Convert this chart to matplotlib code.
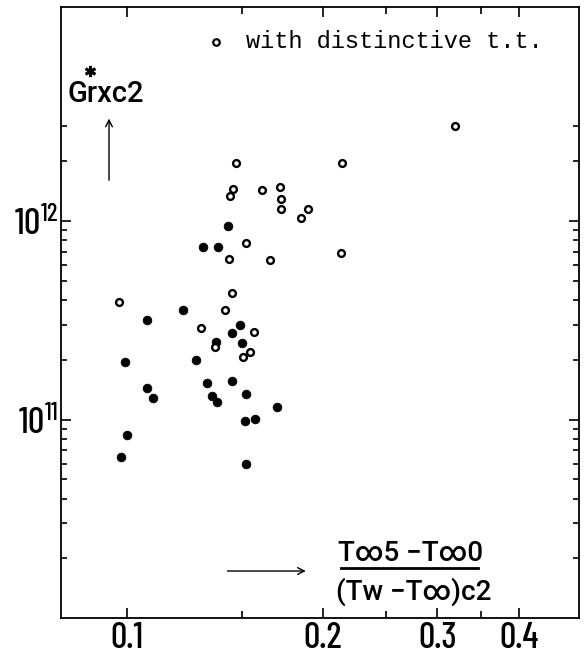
import matplotlib
matplotlib.use("Agg")
import matplotlib.pyplot as plt
from matplotlib.ticker import FixedLocator, NullFormatter, FixedFormatter
from matplotlib.lines import Line2D

# ---- data ----
open_x = [0.319, 0.147, 0.214, 0.1455, 0.144, 0.161, 0.172, 0.1725, 0.1727, 0.190, 0.185,
          0.1524, 0.1436, 0.166, 0.2135, 0.145, 0.0971, 0.1413, 0.130, 0.1565, 0.1367, 0.1545, 0.151]
open_y = [3.03e12, 1.96e12, 1.97e12, 1.46e12, 1.34e12, 1.43e12, 1.48e12, 1.29e12, 1.145e12, 1.145e12, 1.035e12,
          7.78e11, 6.44e11, 6.37e11, 6.88e11, 4.33e11, 3.9e11, 3.58e11, 2.9e11, 2.76e11, 2.32e11, 2.19e11, 2.06e11]

filled_x = [0.143, 0.131, 0.138, 0.122, 0.1073, 0.1494, 0.145, 0.1371, 0.1502, 0.0992, 0.1275, 0.1327,
            0.145, 0.1074, 0.1097, 0.1353, 0.1377, 0.1524, 0.1698, 0.152, 0.1575, 0.0999, 0.0978, 0.1523]
filled_y = [9.5e11, 7.43e11, 7.37e11, 3.58e11, 3.19e11, 2.98e11, 2.74e11, 2.47e11, 2.44e11, 1.95e11, 2.0e11, 1.53e11,
            1.56e11, 1.45e11, 1.29e11, 1.32e11, 1.23e11, 1.35e11, 1.16e11, 9.85e10, 1.01e11, 8.38e10, 6.47e10, 5.94e10]

x_major = [0.1, 0.2, 0.3, 0.4]
x_major_labels = ["0.1", "0.2", "0.3", "0.4"]
x_minor = [0.15, 0.25, 0.35]
y_major = [1e11, 1e12]
y_major_labels = [r"$\mathregular{10^{11}}$", r"$\mathregular{10^{12}}$"]
y_minor = [m * 10.0 ** e for e in (10, 11) for m in range(2, 10)] + [2e12, 3e12]

legend_text = "with distinctive t.t."
ylabel_text = "Grxc2"
xlabel_num = "T\u221e5 \u2212T\u221e0"
xlabel_den = "(Tw \u2212T\u221e)c2"

SANS = ["Roboto", "DejaVu Sans"]
NARROW = ["Barlow Condensed", "DejaVu Sans"]
plt.rcParams["font.family"] = NARROW
plt.rcParams["mathtext.fontset"] = "custom"
plt.rcParams["mathtext.rm"] = "Barlow Condensed:medium"

fig = plt.figure(figsize=(5.85, 6.55), dpi=100)
ax = fig.add_axes([61 / 585, 37 / 655, 518 / 585, 611 / 655])
ax.set_xscale("log")
ax.set_yscale("log")
ax.set_xlim(0.0792, 0.495)
ax.set_ylim(1.0e10, 1.2e13)

ax.scatter(filled_x, filled_y, s=40, c="black", edgecolors="black", linewidths=0.5, zorder=3)
ax.scatter(open_x, open_y, s=24, facecolors="white", edgecolors="black", linewidths=1.7, zorder=3)

ax.xaxis.set_major_locator(FixedLocator(x_major))
ax.xaxis.set_major_formatter(FixedFormatter(x_major_labels))
ax.xaxis.set_minor_locator(FixedLocator(x_minor))
ax.xaxis.set_minor_formatter(NullFormatter())
ax.yaxis.set_major_locator(FixedLocator(y_major))
ax.yaxis.set_major_formatter(FixedFormatter(y_major_labels))
ax.yaxis.set_minor_locator(FixedLocator(y_minor))
ax.yaxis.set_minor_formatter(NullFormatter())

ax.tick_params(which="both", direction="in", top=True, right=True, width=1.2)
ax.tick_params(axis="x", which="major", length=7, pad=3, labelsize=26)
ax.tick_params(axis="x", which="minor", length=5)
ax.tick_params(axis="y", which="major", length=7, pad=2, labelsize=26)
ax.tick_params(axis="y", which="minor", length=4)
for lab in ax.get_xticklabels() + ax.get_yticklabels():
    lab.set_fontweight("medium")
for sp in ax.spines.values():
    sp.set_linewidth(1.3)

# legend-like annotation
ax.scatter([0.299], [0.943], s=22, facecolors="white", edgecolors="black", linewidths=1.6,
           transform=ax.transAxes, clip_on=False, zorder=4)
ax.text(0.357, 0.943, legend_text, transform=ax.transAxes, ha="left", va="center",
        fontsize=17, family=["Liberation Mono", "DejaVu Sans Mono"])

# y label with asterisk and arrow
ax.text(0.087, 0.857, ylabel_text, transform=ax.transAxes, ha="center", va="center",
        fontsize=21, family=SANS, fontweight="medium")
ax.plot([0.056], [0.895], marker=(6, 2, 0), ms=8, mew=2.0, color="black",
        transform=ax.transAxes, clip_on=False)
ax.annotate("", xy=(0.0927, 0.822), xytext=(0.0927, 0.712), xycoords="axes fraction",
            arrowprops=dict(arrowstyle="->", lw=1.0, color="black", mutation_scale=12))

# x label as fraction with arrow
ax.text(0.674, 0.106, xlabel_num, transform=ax.transAxes, ha="center", va="center",
        fontsize=20, family=SANS, fontweight="medium")
ax.add_line(Line2D([0.540, 0.805], [0.0818, 0.0818], transform=ax.transAxes,
                   color="black", lw=2.0))
ax.text(0.68, 0.043, xlabel_den, transform=ax.transAxes, ha="center", va="center",
        fontsize=20, family=SANS, fontweight="medium")
ax.annotate("", xy=(0.478, 0.0769), xytext=(0.316, 0.0769), xycoords="axes fraction",
            arrowprops=dict(arrowstyle="->", lw=1.0, color="black", mutation_scale=12))

fig.savefig("out.png", dpi=100)
